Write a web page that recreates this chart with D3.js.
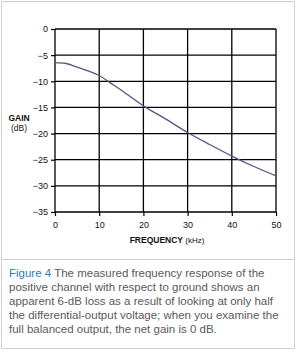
<!DOCTYPE html>
<html>
<head>
<meta charset="utf-8">
<script src="https://cdn.jsdelivr.net/npm/d3@7"></script>
<style>
  body { margin: 0; background: #fff; }
  svg text { font-family: "Liberation Sans", Arial, sans-serif; }
</style>
</head>
<body>
<script>
var freq = [0, 2.5, 5, 7.5, 10, 12.5, 15, 20, 25, 30, 35, 40, 45, 50];
var gain = [-6.45, -6.6, -7.3, -8.0, -8.9, -10.3, -11.7, -14.7, -17.2, -19.8, -22.1, -24.3, -26.3, -28.1];
var xTicks = [0, 10, 20, 30, 40, 50];
var yTicks = [0, -5, -10, -15, -20, -25, -30, -35];
var captionLines = [
  "The measured frequency response of the",
  "positive channel with respect to ground shows an",
  "apparent 6-dB loss as a result of looking at only half",
  "the differential-output voltage; when you examine the",
  "full balanced output, the net gain is 0 dB."
];

var width = 297, height = 353;
var plotL = 55, plotR = 276, plotT = 29, plotB = 212;

var svg = d3.select("body").append("svg")
    .attr("width", width)
    .attr("height", height);

// card border + caption separator
svg.append("rect")
    .attr("x", 1.5).attr("y", 1.5)
    .attr("width", 293).attr("height", 347)
    .attr("fill", "#fff")
    .attr("stroke", "#cfcfcf");
svg.append("line")
    .attr("x1", 1.5).attr("x2", 294.5)
    .attr("y1", 259.5).attr("y2", 259.5)
    .attr("stroke", "#cfcfcf");

var x = d3.scaleLinear().domain([0, 50]).range([plotL, plotR]);
var y = d3.scaleLinear().domain([-35, 0]).range([plotB, plotT]);

// grid
svg.append("g").selectAll("line")
    .data(xTicks)
    .enter().append("line")
    .attr("x1", function(d) { return x(d); })
    .attr("x2", function(d) { return x(d); })
    .attr("y1", plotT).attr("y2", plotB)
    .attr("stroke", "#000").attr("stroke-width", 1.3);
svg.append("g").selectAll("line")
    .data(yTicks)
    .enter().append("line")
    .attr("x1", plotL).attr("x2", plotR)
    .attr("y1", function(d) { return y(d); })
    .attr("y2", function(d) { return y(d); })
    .attr("stroke", "#000").attr("stroke-width", 1.3);

// axes (ticks outside)
var yAxis = svg.append("g")
    .attr("transform", "translate(" + plotL + ",0)")
    .call(d3.axisLeft(y).tickValues(yTicks).tickSize(4).tickPadding(3)
      .tickFormat(function(d) { return d === 0 ? "0" : "\u2212" + Math.abs(d); }));
var xAxis = svg.append("g")
    .attr("transform", "translate(0," + plotB + ")")
    .call(d3.axisBottom(x).tickValues(xTicks).tickSize(4).tickPadding(6));
[yAxis, xAxis].forEach(function(a) {
  a.select(".domain").remove();
  a.selectAll("line").attr("stroke", "#000").attr("stroke-width", 1.2);
  a.selectAll("text").attr("font-size", 9).attr("fill", "#111")
    .style("font-family", "'Liberation Sans', Arial, sans-serif");
});

// curve
var line = d3.line()
    .x(function(d, i) { return x(freq[i]); })
    .y(function(d) { return y(d); })
    .curve(d3.curveMonotoneX);
svg.append("path")
    .attr("d", line(gain))
    .attr("fill", "none")
    .attr("stroke", "#55557f")
    .attr("stroke-width", 1.3);

// axis titles
var gt = svg.append("text").attr("x", 19).attr("y", 121)
    .attr("text-anchor", "middle").attr("font-size", 8.5).attr("fill", "#111");
gt.append("tspan").attr("font-weight", "bold").text("GAIN");
gt.append("tspan").attr("x", 19).attr("dy", 10).text("(dB)");

var ft = svg.append("text").attr("x", 167).attr("y", 243)
    .attr("text-anchor", "middle").attr("font-size", 8.5).attr("fill", "#111");
ft.append("tspan").attr("font-weight", "bold").text("FREQUENCY ");
ft.append("tspan").attr("font-size", 8).text("(kHz)");

// caption
var cap = svg.append("g").attr("font-size", 11.5);
captionLines.forEach(function(s, i) {
  var t = cap.append("text").attr("x", 9).attr("y", 277 + i * 14).attr("fill", "#5a5a5a");
  if (i === 0) {
    t.append("tspan").attr("fill", "#2b7cbf").text("Figure 4 ");
  }
  t.append("tspan").text(s);
});
</script>
</body>
</html>
